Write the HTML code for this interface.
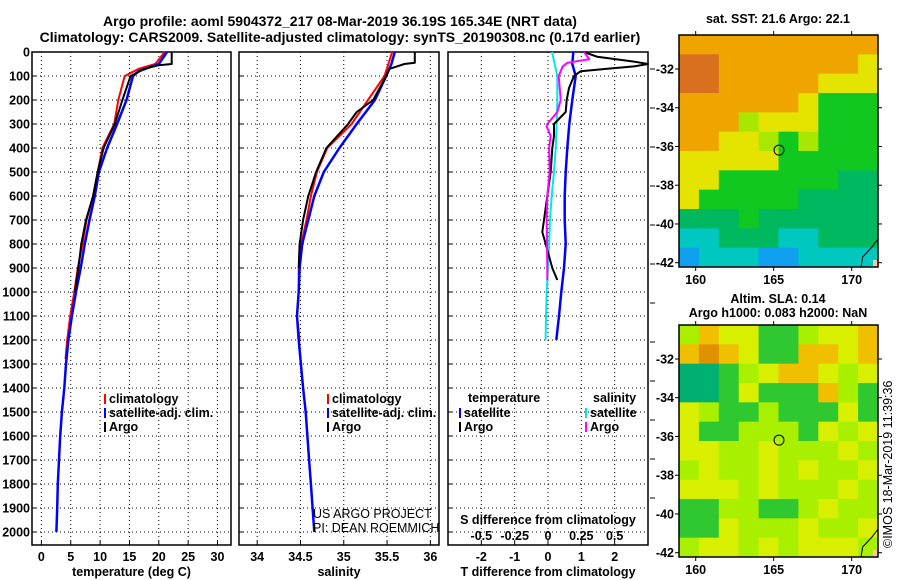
<!DOCTYPE html>
<html><head><meta charset="utf-8">
<style>
body{margin:0;background:#fff;}
svg{display:block;font-family:"Liberation Sans",Arial,sans-serif;}
.t{font-weight:bold;font-size:12.5px;}
</style></head>
<body>
<svg id="chart" width="900" height="580" viewBox="0 0 900 580">
<text x="340" y="26" text-anchor="middle" font-weight="bold" font-size="14">Argo profile: aoml 5904372_217 08-Mar-2019 36.19S 165.34E (NRT data)</text>
<text x="340" y="42" text-anchor="middle" font-weight="bold" font-size="14">Climatology: CARS2009. Satellite-adjusted climatology: synTS_20190308.nc (0.17d earlier)</text>
<g id="g"></g>
</svg>
<script>
// ---------- data ----------
const tDepth = [0,50,70,100,200,300,400,500,600,700,800,900,1000,1100,1200,1280];
const tClim = [21.0,19.4,16.6,14.2,13.1,12.4,10.4,9.6,8.8,7.7,7.0,6.2,5.6,4.9,4.4,4.1];
const satDepth = [0,50,80,100,200,300,400,500,600,700,800,900,1000,1100,1200,1300,1400,1500,1600,1700,1800,1900,2000];
const tSat = [21.4,20.0,16.6,15.6,14.5,12.9,11.2,9.8,9.1,8.2,7.4,6.7,5.9,5.2,4.6,4.2,3.9,3.5,3.2,3.0,2.8,2.7,2.55];
const argoDepth = [0,50,55,70,90,100,200,300,400,500,600,700,800,900,1000];
const tArgo = [22.2,22.2,20.0,17.5,16.0,15.2,13.8,12.5,10.6,9.6,8.8,7.6,6.8,6.3,5.7];
const sClimDepth = [0,100,200,300,400,500,600,700,800,900,1000,1100,1200];
const sClim = [35.56,35.47,35.28,35.09,34.81,34.69,34.62,34.57,34.51,34.48,34.48,34.46,34.49];
const sSat = [35.59,35.55,35.49,35.36,35.15,34.95,34.77,34.66,34.59,34.52,34.49,34.48,34.46,34.48,34.53,34.56,34.58,34.60,34.62,34.64,34.66];
const sSatDepth = [0,50,100,200,300,400,500,600,700,800,900,1000,1100,1200,1400,1500,1600,1700,1800,1900,2000];
const sArgoDepth = [0,45,50,70,100,200,250,300,400,500,600,700,800,900];
const sArgo = [35.82,35.82,35.70,35.53,35.49,35.34,35.15,35.05,34.80,34.68,34.59,34.53,34.49,34.48];
const dTsDepth = [0,50,100,200,300,400,500,600,700,800,900,1000,1100,1200];
const dTsat = [0.76,0.73,0.83,0.73,0.64,0.58,0.53,0.50,0.50,0.53,0.48,0.40,0.33,0.25];
const dTaDepth = [0,20,40,50,60,70,80,100,150,200,250,300,350,400,500,600,700,750,800,900,950];
const dTargo = [1.08,1.48,2.58,3.0,2.58,1.78,0.98,0.78,0.63,0.56,0.53,0.18,0.18,0.13,0.08,-0.02,-0.12,-0.17,-0.07,0.13,0.28];
const dSaDepth = [0,30,45,60,100,200,250,300,310,350,400,500,600,700,900,950];
const dSargo = [0.27,0.31,0.145,0.11,0.08,0.095,0.07,-0.005,-0.01,0.02,0.008,0.012,-0.005,-0.01,-0.005,-0.005];
const dSsat = [0.03,0.05,0.07,0.07,0.065,0.058,0.045,0.028,0.015,0.008,0.0,-0.01,-0.015,-0.018];
const depthTicks = [0,100,200,300,400,500,600,700,800,900,1000,1100,1200,1300,1400,1500,1600,1700,1800,1900,2000];
const tTicks = [0,5,10,15,20,25,30];
const sTicks = [34,34.5,35,35.5,36];
const sTickLabels = ['34','34.5','35','35.5','36'];
const dTTicks = [-2,-1,0,1,2];
const dSTicks = [-0.5,-0.25,0,0.25,0.5];
const dSTickLabels = ['-0.5','-0.25','0','0.25','0.5'];
const latTicks = [-32,-34,-36,-38,-40,-42];
const lonTicks = [160,165,170];
const sstGrid = [
"OOOOOOOOOO","DDOOOOOOOY","DDOOOOOYYY","OOOOOOYGGG","OOOLYYYGGG","OOYYLGLGGG",
"YYYYYGGGGG","YYGGGGGGHH","YGGGGGHHHH","HHHGHHHHHH","CCHHHCCHHH","BCCCBBCCCC"];
const slaGrid = [
"LOYYGGLYYO","ODOYGGOOYO","HHGLYOOYLY","HHGYGGGOLG","YLGGLGGGYG","YGGLLLGYLY",
"YYLLYLLLYL","LYLLYLYLLY","YYYLYLLLYL","GGLLGGLYLL","GGYLLLYLLY","LYYLYLYYYL"];
const sstColors = {O:'#f0a400',D:'#d87020',Y:'#e4e400',L:'#a8e800',G:'#10c820',H:'#00b860',C:'#00c8c0',B:'#10a0f0'};
const slaColors = {O:'#f0c000',D:'#e09000',Y:'#d8f000',L:'#a8f000',G:'#30c830',H:'#00b070'};

// ---------- drawing ----------
const NS='http://www.w3.org/2000/svg';
const G=document.getElementById('g');
function mk(tag,attrs,parent){const e=document.createElementNS(NS,tag);for(const k in attrs)e.setAttribute(k,attrs[k]);(parent||G).appendChild(e);return e;}
const top0=52, bot=545;
const yD = d => top0 + d*0.24;

function panel(name,x0,x1,xmin,xmax,ticks,labels,xlabel,yLabels){
  const g=mk('g',{});
  
  
  const sx = v => x0 + (v-xmin)/(xmax-xmin)*(x1-x0);
  ticks.forEach((v,i)=>{
    const x=sx(v);
    mk('line',{x1:x,x2:x,y1:top0,y2:bot,stroke:'#000','stroke-width':1,'stroke-dasharray':'1,3'},g);
    mk('line',{x1:x,x2:x,y1:bot,y2:bot-4,stroke:'#000'},g);
    if(labels){const t=mk('text',{x:x,y:561,'text-anchor':'middle',class:'t'},g);t.textContent=labels[i];
      
      }
  });
  depthTicks.forEach(d=>{
    const y=yD(d);
    mk('line',{x1:x0,x2:x1,y1:y,y2:y,stroke:'#000','stroke-width':1,'stroke-dasharray':'1,3'},g);
    mk('line',{x1:x0,x2:x0+4,y1:y,y2:y,stroke:'#000'},g);
    if(yLabels){const t=mk('text',{x:x0-2,y:y+4.5,'text-anchor':'end',class:'t'},g);t.textContent=d;
      
      }
  });
  mk('rect',{x:x0,y:top0,width:x1-x0,height:bot-top0,fill:'none',stroke:'#000','stroke-width':1.5},g);
  if(xlabel){const t=mk('text',{x:(x0+x1)/2,y:576,'text-anchor':'middle',class:'t'},g);t.textContent=xlabel;
    
    }
  return sx;
}
function line(sx,depths,vals,color,w,name){
  const pts=vals.map((v,i)=>sx(v).toFixed(1)+','+yD(depths[i]).toFixed(1)).join(' ');
  const p=mk('polyline',{points:pts,fill:'none',stroke:color,'stroke-width':w,'stroke-linejoin':'round'});
  
  
}
function legend(x,y,items,name){
  const g=mk('g',{});
  
  
  items.forEach((it,i)=>{
    mk('rect',{x:x,y:y+i*14-9,width:2,height:10,fill:it[1]},g);
    const t=mk('text',{x:x+5,y:y+i*14,class:'t'},g);t.textContent=it[0];
  });
  return g;
}

// Panel 1 temperature
const sxT=panel('temperature-panel',32,231,-1.6,32.3,tTicks,tTicks.map(String),'temperature (deg C)',true);
line(sxT,tDepth,tClim,'#f00',2,'temp-climatology-line');
line(sxT,satDepth,tSat,'#00f',2.5,'temp-satellite-line');
line(sxT,argoDepth,tArgo,'#000',2,'temp-argo-line');
legend(104,403,[['climatology','#f00'],['satellite-adj. clim.','#00f'],['Argo','#000']],'temperature-legend');

// Panel 2 salinity
const sxS=panel('salinity-panel',239,439,33.79,36.1,sTicks,sTickLabels,'salinity',false);
line(sxS,sClimDepth,sClim,'#f00',2,'sal-climatology-line');
line(sxS,sSatDepth,sSat,'#00f',2.5,'sal-satellite-line');
line(sxS,sArgoDepth,sArgo,'#000',2,'sal-argo-line');
legend(327,403,[['climatology','#f00'],['satellite-adj. clim.','#00f'],['Argo','#000']],'salinity-legend');
let c1=mk('text',{x:313,y:518,'font-size':12.5});c1.textContent='US ARGO PROJECT';


let c2=mk('text',{x:313,y:532,'font-size':12.5});c2.textContent='PI: DEAN ROEMMICH';



// Panel 3 differences
const sxD=panel('difference-panel',448,648,-3,3,dTTicks,dTTicks.map(String),'T difference from climatology',false);
const sxDS = v => sxD(v*4);
line(sxDS,dTsDepth,dSsat,'#00e8e8',2,'sal-diff-satellite-line');
line(sxD,dTsDepth,dTsat,'#00f',2.5,'temp-diff-satellite-line');
line(sxD,dTaDepth,dTargo,'#000',2,'temp-diff-argo-line');
line(sxDS,dSaDepth,dSargo,'#f0f',2,'sal-diff-argo-line');
legend(459,417,[['satellite','#00f'],['Argo','#000']],'temp-diff-legend');
let lt=mk('text',{x:468,y:402,class:'t'});lt.textContent='temperature';


legend(585,417,[['satellite','#00e8e8'],['Argo','#f0f']],'sal-diff-legend');
let ls=mk('text',{x:593,y:402,class:'t'});ls.textContent='salinity';


let sd=mk('text',{x:548,y:524,'text-anchor':'middle',class:'t'});sd.textContent='S difference from climatology';


dSTicks.forEach((v,i)=>{const t=mk('text',{x:sxDS(v),y:540,'text-anchor':'middle',class:'t'});t.textContent=dSTickLabels[i];
  
  });
for(let i=0;i<12;i++){mk('line',{x1:650,x2:655,y1:69+i*39,y2:69+i*39,stroke:'#000'});}

// Maps
const DEG_PX = 19.37;
function map(name,y0,y1,lat32,grid,colors,title1,title2){
  const x0=679,x1=878;
  const g=mk('g',{});
  
  
  const cw=(x1-x0)/grid[0].length, ch=(y1-y0)/grid.length;
  grid.forEach((row,r)=>[...row].forEach((c,k)=>{
    mk('rect',{x:x0+k*cw,y:y0+r*ch,width:cw+0.5,height:ch+0.5,fill:colors[c]},g);
  }));
  const lx = lon => 695.7 + (lon-160)*15.6;
  const ly = lat => lat32 + (-32-lat)*DEG_PX;
  mk('path',{d:`M${lx(170.6)},${y1} L${lx(170.7)},${y1-10} L${lx(171.3)},${y1-20} L878,${y1-28}`,fill:'none',stroke:'#000'},g);
  mk('rect',{x:873,y:y1-7,width:5,height:7,fill:'#f8c8a0'},g);
  mk('circle',{cx:lx(165.34),cy:ly(-36.19),r:5,fill:'none',stroke:'#000'},g);
  mk('rect',{x:x0,y:y0,width:x1-x0,height:y1-y0,fill:'none',stroke:'#000','stroke-width':1.5},g);
  lonTicks.forEach(v=>{mk('line',{x1:lx(v),x2:lx(v),y1:y0,y2:y0-4,stroke:'#000'},g);mk('line',{x1:lx(v),x2:lx(v),y1:y1,y2:y1+4,stroke:'#000'},g);
    const t=mk('text',{x:lx(v),y:y1+17,'text-anchor':'middle',class:'t'},g);t.textContent=v;});
  latTicks.forEach(v=>{mk('line',{x1:x0,x2:x0-4,y1:ly(v),y2:ly(v),stroke:'#000'},g);mk('line',{x1:x1,x2:x1+4,y1:ly(v),y2:ly(v),stroke:'#000'},g);
    const t=mk('text',{x:x0-5,y:ly(v)+4.5,'text-anchor':'end',class:'t'},g);t.textContent=v;});
  const tt=mk('text',{x:778,y:title2?y0-22:y0-12,'text-anchor':'middle',class:'t'},g);tt.textContent=title1;
  if(title2){const t2=mk('text',{x:778,y:y0-8,'text-anchor':'middle',class:'t'},g);t2.textContent=title2;}
}
map('sst-map',35,267,69,sstGrid,sstColors,'sat. SST: 21.6 Argo: 22.1');
map('sla-map',325,557,359,slaGrid,slaColors,'Altim. SLA: 0.14','Argo h1000: 0.083 h2000: NaN');
const ts=mk('text',{x:0,y:0,'font-size':12.5,transform:'translate(892,548) rotate(-90)'});ts.textContent='©IMOS 18-Mar-2019 11:39:36';


</script>
</body></html>
